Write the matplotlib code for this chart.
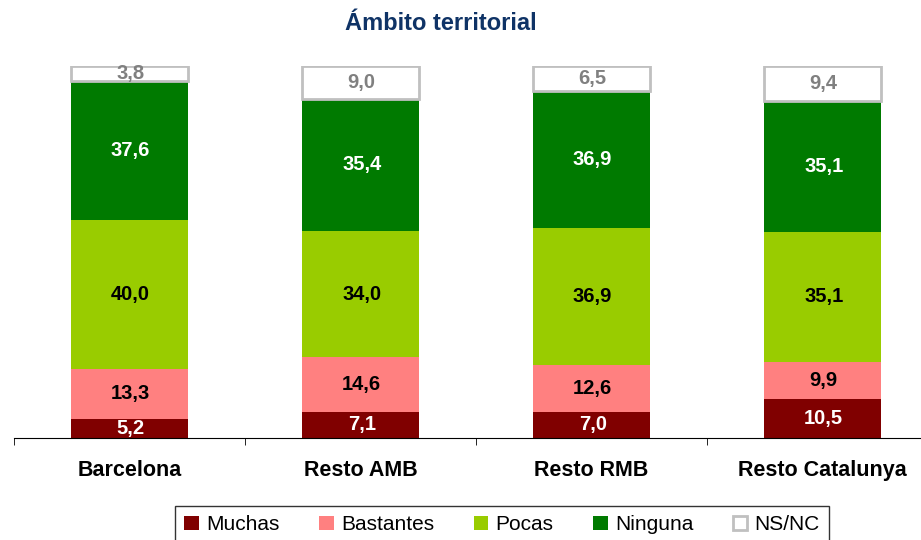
import matplotlib.pyplot as plt
import numpy as np

plt.rcParams['font.family'] = ['Liberation Sans', 'DejaVu Sans']

categories = ["Barcelona", "Resto AMB", "Resto RMB", "Resto Catalunya"]
series = ["Muchas", "Bastantes", "Pocas", "Ninguna", "NS/NC"]
muchas = [5.2, 7.1, 7.0, 10.5]
bastantes = [13.3, 14.6, 12.6, 9.9]
pocas = [40.0, 34.0, 36.9, 35.1]
ninguna = [37.6, 35.4, 36.9, 35.1]
nsnc = [3.8, 9.0, 6.5, 9.4]

values = [muchas, bastantes, pocas, ninguna, nsnc]
colors = ["#800000", "#FF8080", "#99CC00", "#007A00", "white"]
edges = ["none", "none", "none", "none", "#C0C0C0"]
text_colors = ["white", "black", "black", "white", "#808080"]

fig = plt.figure(figsize=(9.21, 5.4), dpi=100)
ax = fig.add_axes([14 / 921, 102 / 540, 924 / 921, 372 / 540])

x = np.arange(len(categories))
bottom = np.zeros(len(categories))
handles = []
for vals, name, col, ec, tc in zip(values, series, colors, edges, text_colors):
    lw = 2 if ec != "none" else 0
    bars = ax.bar(x, vals, 0.505, bottom=bottom, color=col, edgecolor=ec,
                  linewidth=lw, label=name)
    handles.append(bars)
    for xi, v, b in zip(x, vals, bottom):
        ax.text(xi + 0.005, b + v / 2, f"{v:.1f}".replace(".", ","), ha="center",
                va="center", fontsize=14.5, fontweight="bold", color=tc)
    bottom += np.array(vals)

ax.set_xlim(-0.5, 3.5)
ax.set_ylim(0, 100)
for s in ["top", "right", "left"]:
    ax.spines[s].set_visible(False)
ax.spines["bottom"].set_color("black")
ax.set_yticks([])
ax.set_xticks(x)
ax.set_xticklabels(categories, fontsize=15.5, fontweight="bold")
ax.tick_params(axis="x", which="major", length=0, pad=16)
ax.set_xticks(np.arange(-0.5, 4, 1), minor=True)
ax.tick_params(axis="x", which="minor", length=5, direction="out")

fig.text(441 / 921, 1 - 24 / 540, "Ámbito territorial", ha="center", va="center",
         fontsize=17, fontweight="bold", color="#0F3366")

leg = fig.legend(handles=handles, labels=series, loc="upper center",
                 bbox_to_anchor=(502 / 921, 1 - 506 / 540), ncol=5,
                 fontsize=15, frameon=True, fancybox=False, edgecolor="black",
                 handlelength=0.7, handleheight=0.7, columnspacing=1.9,
                 handletextpad=0.35, borderpad=0.45, borderaxespad=0)
leg.get_frame().set_linewidth(1)

fig.savefig("out.png", dpi=100)
